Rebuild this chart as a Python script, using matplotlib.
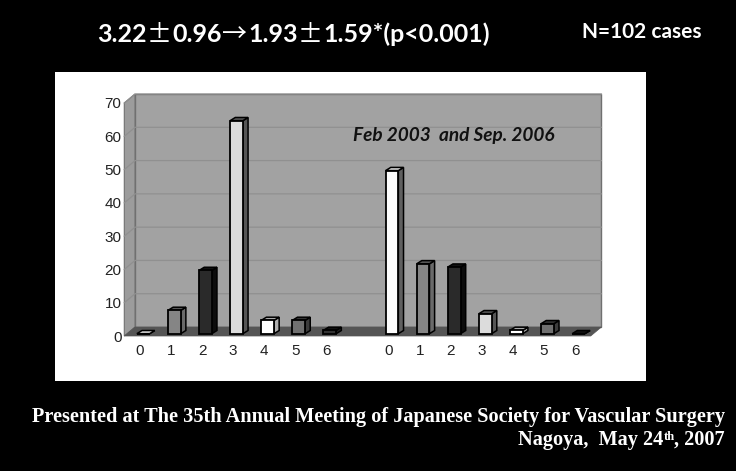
import matplotlib
matplotlib.use("Agg")
import matplotlib.pyplot as plt
from matplotlib.patches import Polygon, Rectangle

W, H = 736, 471
tick_labels = ["0", "1", "2", "3", "4", "5", "6", "", "0", "1", "2", "3", "4", "5", "6"]
before = [0, 7, 19, 64, 4, 4, 1]
after = [49, 21, 20, 6, 1, 3, 0]
values = before + [None] + after
front_colors = ["#fbfbfb", "#858585", "#2a2a2a", "#dcdcdc", "#ffffff", "#707070", "#333333"]
side_colors = ["#606060", "#6a6a6a", "#0c0c0c", "#555555", "#b0b0b0", "#3c3c3c", "#222222"]
top_colors = ["#d8d8d8", "#555555", "#111111", "#555555", "#aaaaaa", "#333333", "#111111"]
yticks = [0, 10, 20, 30, 40, 50, 60, 70]
title_parts = ["3.22", "\u00b1", "0.96", "\u2192", "1.93", "\u00b1", "1.59*(p<0.001)"]
note = "N=102 cases"
inset = "Feb 2003  and Sep. 2006"
footer1 = "Presented at The 35th Annual Meeting of Japanese Society for Vascular Surgery"
footer2_parts = [("Nagoya,  May 24", 14.6, 0), ("th", 9, 5), (", 2007", 14.6, 0)]

fig = plt.figure(figsize=(W / 100, H / 100), dpi=100, facecolor="black")
renderer = fig.canvas.get_renderer()

def px_axes(x0, y0, x1, y1):
    return fig.add_axes([x0 / W, 1 - y1 / H, (x1 - x0) / W, (y1 - y0) / H])

bg = fig.add_axes([0, 0, 1, 1]); bg.axis("off")
bg.set_xlim(0, W); bg.set_ylim(H, 0)
bg.add_patch(Rectangle((55, 72), 591, 309, fc="white", ec="none"))

ax = px_axes(124.3, 103, 590.7, 336)
ax.set_xlim(-0.5, 14.5); ax.set_ylim(0, 70)
ax.patch.set_alpha(0)
for s in ax.spines.values():
    s.set_visible(False)

DX, DY = 0.345, 2.7   # wall depth in data units
x0, x1 = -0.5, 14.5
edge = "#707070"
ax.add_patch(Polygon([(x0 + DX, DY), (x1 + DX, DY), (x1 + DX, 70 + DY), (x0 + DX, 70 + DY)],
                     fc="#a2a2a2", ec=edge, lw=1, clip_on=False, zorder=1))
ax.add_patch(Polygon([(x0, 0), (x0 + DX, DY), (x0 + DX, 70 + DY), (x0, 70)],
                     fc="#9c9c9c", ec=edge, lw=0.8, clip_on=False, zorder=1))
ax.add_patch(Polygon([(x0, 0), (x1, 0), (x1 + DX, DY), (x0 + DX, DY)],
                     fc="#555555", ec="#555555", lw=0.5, clip_on=False, zorder=2))
for t in yticks[1:]:
    ax.plot([x0, x0 + DX, x1 + DX], [t, t + DY, t + DY], color="#909090", lw=0.9,
            clip_on=False, zorder=1.5)

BW, OFF, bdx, bdy, BASE = 0.41, 0.11, 0.165, 0.95, 0.7
xs = [i for i, v in enumerate(values) if v is not None]
vals = [v for v in values if v is not None]
fronts = front_colors + front_colors
sides = side_colors + side_colors
tops = top_colors + top_colors
ax.bar([x + OFF for x in xs], [max(v, 0.01) for v in vals], BW, bottom=BASE,
       color=fronts, edgecolor="black", linewidth=1.3, zorder=4, clip_on=False)
for x, v, s, t in zip(xs, vals, sides, tops):
    l, r = x + OFF - BW / 2, x + OFF + BW / 2
    top = v + BASE
    ax.add_patch(Polygon([(r, BASE), (r + bdx, BASE + bdy), (r + bdx, top + bdy), (r, top)],
                         fc=s, ec="black", lw=1.1, zorder=3.5, clip_on=False))
    ax.add_patch(Polygon([(l, top), (r, top), (r + bdx, top + bdy), (l + bdx, top + bdy)],
                         fc=t, ec="black", lw=1.1, zorder=3.5, clip_on=False))

ax.set_xticks(range(len(tick_labels)), tick_labels, fontfamily="Liberation Sans", fontsize=11, color="#222222")
ax.set_yticks(yticks, [str(t) for t in yticks], fontfamily="Liberation Sans", fontsize=11, color="#222222")
ax.tick_params(axis="x", length=0, pad=6)
ax.tick_params(axis="y", length=0, pad=2)

ax.text(353, 136, inset, transform=bg.transData, family="Lato", weight="bold", style="italic",
        fontsize=13.7, color="#111111", ha="left", va="center", zorder=10, clip_on=False)

x = 97.0
for part in title_parts:
    sym = part in ("\u00b1", "\u2192")
    fam = "Noto Sans CJK JP" if sym else "Lato"
    t = bg.text(x, 42, part, family=fam, weight="regular" if sym else "bold",
                fontsize=18, color="white", ha="left", va="baseline")
    x += t.get_window_extent(renderer).width + (1 if sym else 0)

bg.text(702, 32, note, family="Lato", weight="bold", fontsize=15, color="white",
        ha="right", va="center")
bg.text(725, 417, footer1, family="Liberation Serif", weight="bold", fontsize=14.6,
        color="white", ha="right", va="center")

x = 725.0
for part, size, rise in reversed(footer2_parts):
    t = bg.text(x, 445 - rise, part, family="Liberation Serif", weight="bold", fontsize=size,
                color="white", ha="right", va="baseline")
    x -= t.get_window_extent(renderer).width

fig.savefig("out.png", dpi=100, facecolor="black")
